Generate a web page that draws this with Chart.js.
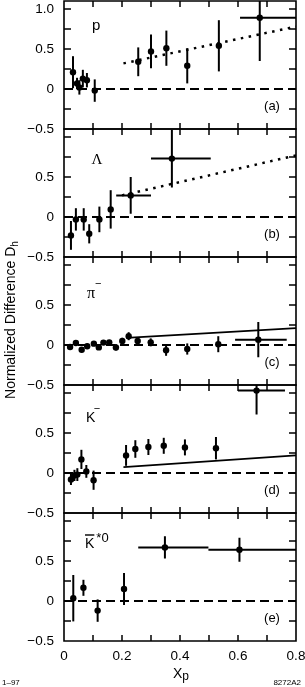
<!DOCTYPE html>
<html>
<head>
<meta charset="utf-8">
<script src="https://cdn.jsdelivr.net/npm/chart.js@4.4.0/dist/chart.umd.min.js"></script>
<style>
  html, body { margin: 0; padding: 0; background: #fff; }
  #wrap { position: relative; width: 305px; height: 687px; overflow: hidden; background: #fff; }
  #wrap canvas { position: absolute; left: 0; }
  #labels { position: absolute; left: 0; top: 0; }
</style>
</head>
<body>
<div id="wrap">
<svg id="labels" width="305" height="687" font-family="Liberation Sans, Arial, sans-serif" fill="#000">
  <text x="92" y="30" font-size="15">p</text>
  <text x="91.5" y="164" font-size="15" font-family="Liberation Serif, serif">Λ</text>
  <text x="87" y="297.5" font-size="16" font-family="Liberation Serif, serif">π<tspan dy="-10.5" font-size="11" font-family="Liberation Sans, sans-serif">−</tspan></text>
  <text x="86" y="421.7" font-size="14">K<tspan dx="-1.5" dy="-10" font-size="11">−</tspan></text>
  <text x="85" y="548.3" font-size="14"><tspan text-decoration="overline" style="text-decoration:overline">K</tspan><tspan dx="2" dy="-6.3" font-size="13">*0</tspan></text>

  <text x="272" y="110" font-size="13" text-anchor="middle">(a)</text>
  <text x="272" y="238" font-size="13" text-anchor="middle">(b)</text>
  <text x="272" y="366" font-size="13" text-anchor="middle">(c)</text>
  <text x="272" y="494" font-size="13" text-anchor="middle">(d)</text>
  <text x="272" y="622" font-size="13" text-anchor="middle">(e)</text>

  <text transform="translate(15,320) rotate(-90)" font-size="14" text-anchor="middle">Normalized Difference D<tspan dy="3" font-size="10">h</tspan></text>
  <text x="173" y="678" font-size="14">X<tspan dy="1.5" font-size="12">p</tspan></text>
  <text x="2" y="685" font-size="8">1–97</text>
  <text x="301" y="685" font-size="8" text-anchor="end">8272A2</text>
</svg>
</div>
<script>
// axis ticks: marks every 0.1 / 0.25, labels every 0.2 / 0.5
const xMarks = [0.1, 0.2, 0.3, 0.4, 0.5, 0.6, 0.7];
const xLabels = [0, 0.2, 0.4, 0.6, 0.8];
const yMarks = [-0.25, 0, 0.25, 0.5, 0.75, 1.0];
const yLabels = [-0.5, 0, 0.5];

// (a) p
const pX   = [0.031, 0.045, 0.053, 0.065, 0.079, 0.106, 0.256, 0.300, 0.353, 0.425, 0.534, 0.675];
const pY   = [0.21, 0.07, 0.02, 0.13, 0.11, -0.02, 0.34, 0.47, 0.51, 0.29, 0.54, 0.89];
const pErr = [0.20, 0.07, 0.09, 0.11, 0.09, 0.14, 0.18, 0.21, 0.22, 0.22, 0.32, 0.54];
const pXLo = [null, null, null, null, null, null, null, null, null, null, null, 0.607];
const pXHi = [null, null, null, null, null, null, null, null, null, null, null, 0.8];
const pLineX = [0.205, 0.8];
const pLineY = [0.32, 0.78];

// (b) Lambda
const lX   = [0.024, 0.041, 0.068, 0.087, 0.122, 0.161, 0.230, 0.372];
const lY   = [-0.23, -0.03, -0.03, -0.21, -0.03, 0.095, 0.27, 0.73];
const lErr = [0.18, 0.14, 0.14, 0.12, 0.16, 0.24, 0.23, 0.36];
const lXLo = [null, null, null, null, null, null, 0.18, 0.30];
const lXHi = [null, null, null, null, null, null, 0.30, 0.506];
const lLineX = [0.2, 0.8];
const lLineY = [0.27, 0.77];

// (c) pi-
const cX   = [0.021, 0.041, 0.061, 0.080, 0.103, 0.120, 0.136, 0.156, 0.179, 0.201, 0.223, 0.254, 0.299, 0.352, 0.425, 0.532, 0.670];
const cY   = [-0.025, 0.025, -0.06, -0.015, 0.017, -0.03, 0.03, 0.033, -0.03, 0.05, 0.11, 0.05, 0.033, -0.065, -0.05, 0.01, 0.067];
const cErr = [0.03, 0.03, 0.03, 0.03, 0.03, 0.03, 0.03, 0.03, 0.04, 0.04, 0.05, 0.05, 0.05, 0.07, 0.07, 0.10, 0.22];
const cXLo = [null, null, null, null, null, null, null, null, null, null, null, null, null, null, null, null, 0.59];
const cXHi = [null, null, null, null, null, null, null, null, null, null, null, null, null, null, null, null, 0.768];
const cLineX = [0.215, 0.8];
const cLineY = [0.09, 0.21];

// (d) K-
const kX   = [0.024, 0.036, 0.046, 0.060, 0.077, 0.102, 0.214, 0.246, 0.291, 0.344, 0.417, 0.524, 0.664];
const kY   = [-0.08, -0.03, -0.02, 0.17, 0.02, -0.09, 0.22, 0.30, 0.325, 0.34, 0.32, 0.31, 1.03];
const kErr = [0.07, 0.07, 0.08, 0.12, 0.08, 0.12, 0.13, 0.11, 0.10, 0.10, 0.10, 0.14, 0.30];
const kXLo = [null, null, null, null, null, null, null, null, null, null, null, null, 0.60];
const kXHi = [null, null, null, null, null, null, null, null, null, null, null, null, 0.762];
const kLineX = [0.205, 0.8];
const kLineY = [0.074, 0.22];

// (e) anti-K*0
const eX   = [0.032, 0.067, 0.116, 0.207, 0.348, 0.605];
const eY   = [0.035, 0.165, -0.12, 0.15, 0.67, 0.64];
const eErr = [0.29, 0.10, 0.14, 0.20, 0.14, 0.15];
const eXLo = [null, null, null, null, 0.256, 0.498];
const eXHi = [null, null, null, null, 0.498, 0.8];

const panels = [
  { x: pX, y: pY, err: pErr, xLo: pXLo, xHi: pXHi, lineX: pLineX, lineY: pLineY, dotted: true, showTop: true },
  { x: lX, y: lY, err: lErr, xLo: lXLo, xHi: lXHi, lineX: lLineX, lineY: lLineY, dotted: true },
  { x: cX, y: cY, err: cErr, xLo: cXLo, xHi: cXHi, lineX: cLineX, lineY: cLineY },
  { x: kX, y: kY, err: kErr, xLo: kXLo, xHi: kXHi, lineX: kLineX, lineY: kLineY },
  { x: eX, y: eY, err: eErr, xLo: eXLo, xHi: eXHi }
];

const fmt = v => v === 0 ? '0' : (v < 0 ? '\u2212' : '') + Math.abs(v).toFixed(1);

// error bars plus the panel box and its inward ticks, all in the same pass
const errorBars = {
  id: 'errorBars',
  beforeDatasetsDraw(chart) {
    const { ctx, chartArea: a, scales: { x, y } } = chart;
    ctx.save();
    ctx.beginPath();
    ctx.rect(a.left - 2, a.top - 2, a.width + 4, a.height + 4);
    ctx.clip();
    ctx.strokeStyle = '#000';
    ctx.lineWidth = 2;
    chart.data.datasets.forEach(ds => {
      if (!ds.errY) return;
      ds.data.forEach((pt, i) => {
        const px = x.getPixelForValue(pt.x), py = y.getPixelForValue(pt.y);
        const top = Math.max(y.getPixelForValue(pt.y + ds.errY[i]), a.top);
        const bot = Math.min(y.getPixelForValue(pt.y - ds.errY[i]), a.bottom);
        ctx.beginPath();
        ctx.moveTo(px, bot);
        ctx.lineTo(px, top);
        if (ds.errXLo[i] != null) {
          ctx.moveTo(x.getPixelForValue(ds.errXLo[i]), py);
          ctx.lineTo(Math.min(x.getPixelForValue(ds.errXHi[i]), a.right), py);
        }
        ctx.stroke();
      });
    });

    // panel box
    ctx.lineWidth = 1.6;
    ctx.beginPath();
    ctx.moveTo(a.left, a.top); ctx.lineTo(a.right, a.top);
    ctx.lineTo(a.right, a.bottom); ctx.lineTo(a.left, a.bottom);
    ctx.closePath();
    ctx.stroke();

    // inward ticks
    ctx.lineWidth = 1.5;
    xMarks.forEach(v => {
      const px = x.getPixelForValue(v);
      ctx.beginPath();
      ctx.moveTo(px, a.top); ctx.lineTo(px, a.top + 6);
      ctx.stroke();
      ctx.beginPath();
      ctx.moveTo(px, a.bottom); ctx.lineTo(px, a.bottom - 6);
      ctx.stroke();
    });
    yMarks.forEach(v => {
      const py = y.getPixelForValue(v);
      ctx.beginPath();
      ctx.moveTo(a.left, py); ctx.lineTo(a.left + 7, py);
      ctx.stroke();
      ctx.beginPath();
      ctx.moveTo(a.right, py); ctx.lineTo(a.right - 7, py);
      ctx.stroke();
    });
    ctx.restore();
  }
};

Chart.defaults.font.family = 'Liberation Sans, Arial, sans-serif';
Chart.defaults.color = '#000';

const wrap = document.getElementById('wrap');
const svg = document.getElementById('labels');

panels.forEach((p, i) => {
  const last = i === panels.length - 1;
  const top = 1 + i * 128;
  const cv = document.createElement('canvas');
  cv.width = 305;
  cv.height = last ? 12 + 128 + 30 + 4 : 12 + 128 + 12;
  cv.style.top = (top - 12) + 'px';
  wrap.insertBefore(cv, svg);

  const datasets = [{
    data: p.x.map((v, k) => ({ x: v, y: p.y[k] })),
    errY: p.err, errXLo: p.xLo, errXHi: p.xHi,
    pointRadius: 3.2, pointBackgroundColor: '#000', pointBorderWidth: 0, backgroundColor: '#000'
  }];
  if (p.lineX) {
    datasets.push({
      type: 'line',
      data: p.lineX.map((v, k) => ({ x: v, y: p.lineY[k] })),
      borderColor: '#000', borderWidth: p.dotted ? 2.5 : 1.7,
      borderDash: p.dotted ? [2.5, 5.5] : [], pointRadius: 0
    });
  }
  datasets.push({
    type: 'line',
    data: [{ x: 0, y: 0 }, { x: 0.8, y: 0 }],
    borderColor: '#000', borderWidth: 2, borderDash: [9, 5], pointRadius: 0
  });

  const yShown = p.showTop ? yLabels.concat([1.0]) : yLabels;

  new Chart(cv, {
    type: 'scatter',
    data: { datasets },
    options: {
      responsive: false,
      animation: false,
      devicePixelRatio: 1,
      layout: { padding: { top: 12, bottom: last ? 4 : 12, left: 0, right: 9 } },
      plugins: { legend: { display: false }, tooltip: { enabled: false } },
      scales: {
        x: {
          type: 'linear', min: 0, max: 0.8, display: last,
          grid: { display: false, drawTicks: false }, border: { display: false },
          afterBuildTicks: s => { s.ticks = xLabels.map(v => ({ value: v })); },
          afterFit: s => { if (last) s.height = 30; s.paddingLeft = 0; s.paddingRight = 0; },
          ticks: { padding: 7, autoSkip: false, maxRotation: 0, font: { size: 13.5 }, callback: fmt }
        },
        y: {
          min: -0.5, max: 1.1,
          grid: { display: false, drawTicks: false }, border: { display: false },
          afterBuildTicks: s => { s.ticks = yShown.map(v => ({ value: v })); },
          afterFit: s => { s.width = 64; s.paddingTop = 0; s.paddingBottom = 0; },
          ticks: { padding: 10, autoSkip: false, font: { size: 13.5 }, callback: fmt }
        }
      }
    },
    plugins: [errorBars]
  });
});
</script>
</body>
</html>
